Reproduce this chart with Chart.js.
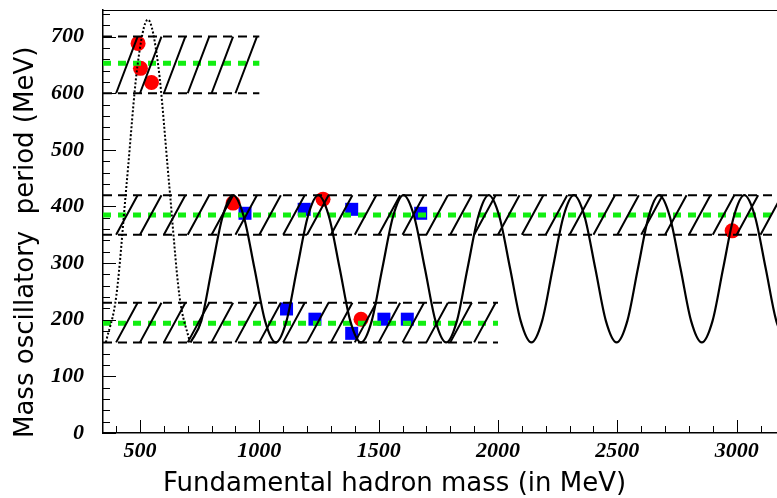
<!DOCTYPE html>
<html>
<head>
<meta charset="utf-8">
<title>Mass oscillatory period</title>
<script src="https://cdn.jsdelivr.net/npm/chart.js@4.4.1/dist/chart.umd.min.js"></script>
<style>
  html, body { margin: 0; padding: 0; background: #fff; }
  canvas { display: block; }
</style>
</head>
<body>
<canvas id="periodChart" width="777" height="498"></canvas>
<script>
// hadron masses (MeV) with their oscillatory period (MeV)
const circleMass   = [492, 502, 548, 890, 1267, 1426, 2981];
const circlePeriod = [688, 644, 619, 406, 413, 201, 357];
const squareMass   = [940, 1188, 1387, 1676, 1114, 1233, 1387, 1522, 1620];
const squarePeriod = [388, 395, 395, 388, 219, 201, 176, 201, 201];

// oscillation curve, solid part
const waveMass = [712, 757, 801, 846, 890, 935, 980, 1024, 1069, 1114, 1158, 1203, 1247,
  1292, 1337, 1381, 1426, 1471, 1515, 1560, 1604, 1649, 1694, 1738, 1783, 1828, 1872,
  1917, 1961, 2006, 2051, 2095, 2140, 2185, 2229, 2274, 2318, 2363, 2408, 2452, 2497,
  2542, 2586, 2631, 2675, 2720, 2765, 2809, 2854, 2899, 2943, 2988, 3032, 3077, 3122,
  3166, 3211];
const wavePeriod = [160, 198, 290, 382, 420, 382, 290, 198, 160, 198, 290, 382, 420,
  382, 290, 198, 160, 198, 290, 382, 420, 382, 290, 198, 160, 198, 290,
  382, 420, 382, 290, 198, 160, 198, 290, 382, 420, 382, 290, 198, 160,
  198, 290, 382, 420, 382, 290, 198, 160, 198, 290, 382, 420, 382, 290,
  198, 160];

// first swing, dotted
const swingMass   = [357, 401, 445, 489, 533, 577, 621, 665, 709];
const swingPeriod = [160, 243, 445, 647, 730, 647, 445, 243, 160];

// period bands: lower edge, central value, upper edge, mass range
const bandLow  = [600, 350, 160];
const bandMid  = [653, 385, 194];
const bandHigh = [700, 420, 230];
const bandFrom = [345, 345, 345];
const bandTo   = [1000, 3170, 2000];

const massTicks = [500, 1000, 1500, 2000, 2500, 3000];
const periodTicks = [0, 100, 200, 300, 400, 500, 600, 700];
const massTitle = 'Fundamental hadron mass (in MeV)';
const periodTitle = 'Mass oscillatory  period (MeV)';

// hatch strokes inside each band
const hatchStart = 400, hatchStep = 100, hatchLean = 90;

function hatchPoints(i) {
  const pts = [];
  for (let m = hatchStart; m < bandTo[i]; m += hatchStep) {
    pts.push({ x: m, y: bandLow[i] }, { x: m + hatchLean, y: bandHigh[i] }, { x: m + hatchLean, y: null });
  }
  return pts;
}

function edgePoints(i) {
  return [
    { x: bandFrom[i], y: bandLow[i] }, { x: bandTo[i], y: bandLow[i] }, { x: bandTo[i], y: null },
    { x: bandFrom[i], y: bandHigh[i] }, { x: bandTo[i], y: bandHigh[i] }
  ];
}

const zip = (xs, ys) => xs.map((x, i) => ({ x, y: ys[i] }));

const lineBase = { showLine: true, pointRadius: 0, fill: false, spanGaps: false };

const datasets = [
  { ...lineBase, data: zip(waveMass, wavePeriod), borderColor: '#000', borderWidth: 2.2,
    cubicInterpolationMode: 'monotone' },
  { ...lineBase, data: zip(swingMass, swingPeriod), borderColor: '#000', borderWidth: 2,
    borderDash: [2, 2], cubicInterpolationMode: 'monotone' }
];
bandLow.forEach((_, i) => {
  datasets.push({ ...lineBase, data: hatchPoints(i), borderColor: '#000', borderWidth: 2 });
});
bandLow.forEach((_, i) => {
  datasets.push({ ...lineBase, data: edgePoints(i), borderColor: '#000', borderWidth: 2, borderDash: [9, 6] });
});
bandMid.forEach((v, i) => {
  datasets.push({ ...lineBase, data: [{ x: bandFrom[i], y: v }, { x: bandTo[i], y: v }],
    borderColor: '#11ee11', borderWidth: 5, borderDash: [8, 7] });
});
datasets.push({ data: zip(circleMass, circlePeriod), pointStyle: 'circle', pointRadius: 7.5,
  backgroundColor: '#ff0000', borderWidth: 0 });
datasets.push({ data: zip(squareMass, squarePeriod), pointStyle: 'rect', pointRadius: 9.2,
  backgroundColor: '#0000ff', borderWidth: 0 });

const massMinor = 100, massMajor = 500, periodMinor = 20, periodMajor = 100;

// inward tick marks, top frame line and axis titles
const frameAndTitles = {
  id: 'frameAndTitles',
  afterDraw(chart) {
    const { ctx, chartArea: a, scales: { x, y } } = chart;
    ctx.save();
    ctx.strokeStyle = '#000';
    ctx.lineWidth = 1;
    ctx.beginPath();
    ctx.moveTo(a.left, a.top + 0.5);
    ctx.lineTo(a.right, a.top + 0.5);
    for (let m = Math.ceil(x.min / massMinor) * massMinor; m <= x.max; m += massMinor) {
      const px = Math.round(x.getPixelForValue(m)) + 0.5;
      const len = m % massMajor === 0 ? 13 : 7;
      ctx.moveTo(px, a.bottom);
      ctx.lineTo(px, a.bottom - len);
    }
    for (let p = 0; p <= y.max; p += periodMinor) {
      const py = Math.round(y.getPixelForValue(p)) + 0.5;
      const len = p % periodMajor === 0 ? 13 : 7;
      ctx.moveTo(a.left, py);
      ctx.lineTo(a.left + len, py);
    }
    ctx.stroke();

    ctx.fillStyle = '#000';
    ctx.font = '26px "DejaVu Sans"';
    ctx.textAlign = 'left';
    ctx.textBaseline = 'alphabetic';
    ctx.fillText(massTitle, 163, 491);
    ctx.translate(33, 438);
    ctx.rotate(-Math.PI / 2);
    ctx.fillText(periodTitle, 0, 0);
    ctx.restore();
  }
};

const tickFont = { family: '"Liberation Serif", "Times New Roman", serif', size: 22, style: 'italic', weight: 'bold' };

new Chart(document.getElementById('periodChart'), {
  type: 'scatter',
  data: { datasets },
  options: {
    responsive: false,
    animation: false,
    layout: { autoPadding: false, padding: { top: 10, right: 0, bottom: 0, left: 0 } },
    plugins: { legend: { display: false }, tooltip: { enabled: false } },
    scales: {
      x: {
        type: 'linear', min: 345, max: 3169,
        grid: { display: false, drawTicks: false },
        border: { display: true, color: '#000', width: 1.5 },
        afterBuildTicks: s => { s.ticks = massTicks.map(v => ({ value: v })); },
        afterFit: s => { s.height = 65; s.paddingLeft = 0; s.paddingRight = 0; },
        ticks: { color: '#000', font: tickFont, padding: 5, maxRotation: 0, callback: v => String(v) }
      },
      y: {
        type: 'linear', min: 0, max: 747,
        grid: { display: false, drawTicks: false },
        border: { display: true, color: '#000', width: 1.5 },
        afterBuildTicks: s => { s.ticks = periodTicks.map(v => ({ value: v })); },
        afterFit: s => { s.width = 103; s.paddingTop = 0; s.paddingBottom = 0; },
        ticks: { color: '#000', font: tickFont, padding: 19, callback: v => String(v) }
      }
    }
  },
  plugins: [frameAndTitles]
});
</script>
</body>
</html>
